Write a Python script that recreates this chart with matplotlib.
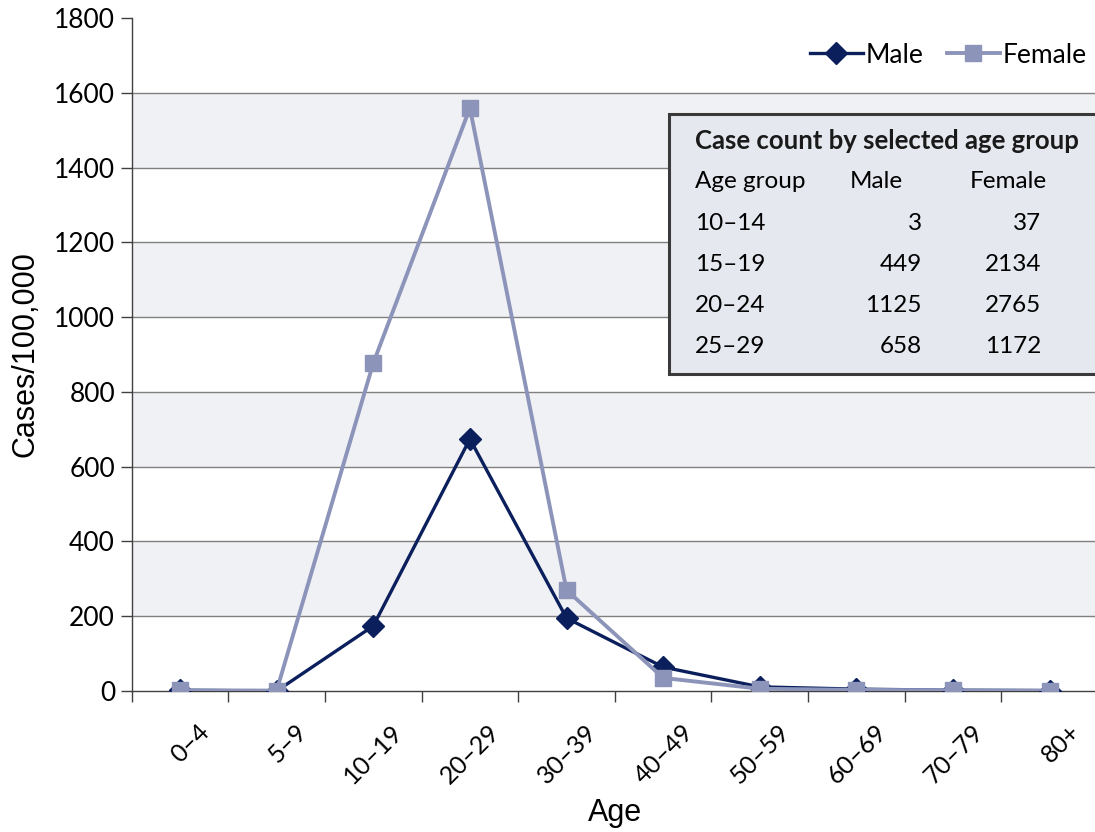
import matplotlib
matplotlib.use('Agg')
from matplotlib import pyplot as plt
from matplotlib.patches import Rectangle
from matplotlib.transforms import ScaledTranslation

age_groups = ['0–4', '5–9', '10–19', '20–29', '30–39', '40–49', '50–59', '60–69', '70–79', '80+']
male_rate = [2, 0, 174, 674, 195, 64, 11, 5, 2, 1]
female_rate = [2, 1, 877, 1559, 270, 35, 6, 3, 2, 1]

table_groups = ['10–14', '15–19', '20–24', '25–29']
table_male = [3, 449, 1125, 658]
table_female = [37, 2134, 2765, 1172]

male_color = '#0b1f5c'
female_color = '#8d94ba'
band_color = '#f0f1f4'
tick_font = 'Lato'
label_font = 'Liberation Sans'

W, H = 1095, 832
fig = plt.figure(figsize=(W / 100, H / 100), dpi=100)


def fx(px):
    return px / W


def fy(py):
    return 1 - py / H


left, right, top, bottom = 131.7, 1098, 18, 691
ax = fig.add_axes([fx(left), fy(bottom), fx(right - left), fy(top) - fy(bottom)])

x = list(range(len(age_groups)))

# alternating shaded bands and grid lines
for lo in range(200, 1800, 400):
    ax.axhspan(lo, lo + 200, color=band_color, zorder=0, lw=0)
for yv in range(200, 1800, 200):
    ax.axhline(yv, color='#808080', lw=1.0, zorder=1)

ax.plot(x, male_rate, color=male_color, lw=2.4, marker='D', markersize=11,
        label='Male', zorder=3)
ax.plot(x, female_rate, color=female_color, lw=2.8, marker='s', markersize=11.5,
        label='Female', zorder=4)

ax.set_xlim(-0.5, len(age_groups) - 0.5)
ax.set_ylim(0, 1800)
ax.set_yticks(range(0, 1801, 200))
ax.set_xticks(x)
ax.set_xticks([i - 0.5 for i in x], minor=True)
ax.set_xticklabels(age_groups, rotation=45, ha='right', va='top',
                   rotation_mode='anchor', fontsize=18, family=tick_font)
ax.tick_params(axis='x', which='major', length=0, pad=21)
ax.tick_params(axis='x', which='minor', length=8, width=1, color='#404040')
ax.tick_params(axis='y', length=8, width=1, color='#404040', pad=4)
shift = ScaledTranslation(18 / 100, 0, fig.dpi_scale_trans)
for lab in ax.get_xticklabels():
    lab.set_transform(lab.get_transform() + shift)
for lab in ax.get_yticklabels():
    lab.set_fontsize(19)
    lab.set_family(tick_font)

for s in ['top', 'right']:
    ax.spines[s].set_visible(False)
for s in ['left', 'bottom']:
    ax.spines[s].set_color('#404040')
    ax.spines[s].set_linewidth(1)

ax.set_xlabel('Age', fontsize=22, family=label_font, labelpad=7)
ax.set_ylabel('Cases/100,000', fontsize=22, family=label_font, labelpad=10)

ax.legend(loc='upper right', bbox_to_anchor=(fx(1097), fy(32)),
          bbox_transform=fig.transFigure, ncol=2, frameon=False,
          prop={'family': tick_font, 'size': 19}, handlelength=2.0,
          handletextpad=0.1, columnspacing=0.9, borderaxespad=0)

# inset box with case counts
fig.patches.append(Rectangle((fx(669), fy(374)), fx(460), fy(114) - fy(374),
                             transform=fig.transFigure, facecolor='#e6e8f0',
                             edgecolor='#3a3a3a', lw=2.2, zorder=5))
fig.text(fx(695), fy(141), 'Case count by selected age group', fontsize=18.5,
         fontweight='bold', family=tick_font, va='center', color='#1a1a1a', zorder=6)
row_size = 17.5
hdr_y = 182
fig.text(fx(695), fy(hdr_y), 'Age group', fontsize=row_size, family=tick_font, va='center', zorder=6)
fig.text(fx(850), fy(hdr_y), 'Male', fontsize=row_size, family=tick_font, va='center', zorder=6)
fig.text(fx(970), fy(hdr_y), 'Female', fontsize=row_size, family=tick_font, va='center', zorder=6)
for i, (g, m, f) in enumerate(zip(table_groups, table_male, table_female)):
    ry = fy(223 + i * 41.3)
    fig.text(fx(695), ry, g, fontsize=row_size, family=tick_font, va='center', zorder=6)
    fig.text(fx(922), ry, str(m), fontsize=row_size, family=tick_font, va='center', ha='right', zorder=6)
    fig.text(fx(1041), ry, str(f), fontsize=row_size, family=tick_font, va='center', ha='right', zorder=6)

plt.savefig('out.png', dpi=100)
